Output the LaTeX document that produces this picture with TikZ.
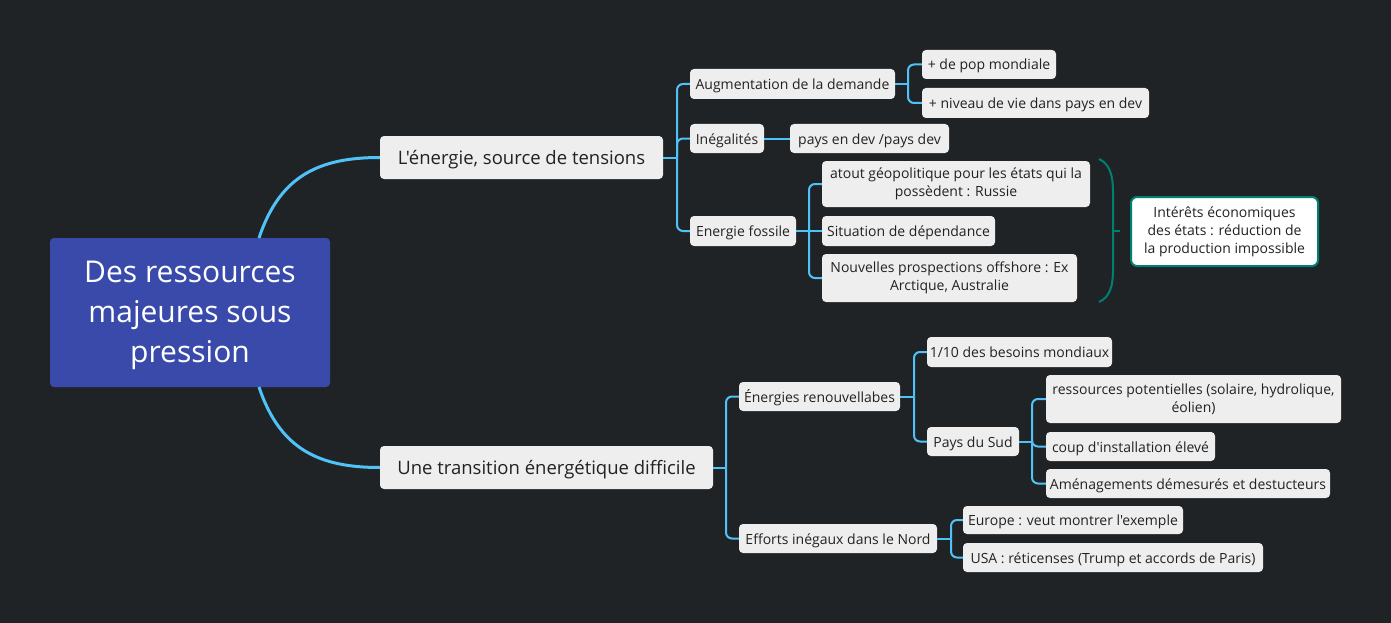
\documentclass[tikz,border=0pt]{standalone}
\usepackage{fontspec}
\setmainfont{Open Sans}[Ligatures=TeXOff]
\definecolor{bgc}{RGB}{32,35,38}
\definecolor{centralc}{RGB}{58,74,171}
\definecolor{linec}{RGB}{79,195,247}
\definecolor{nodec}{RGB}{238,238,238}
\definecolor{textc}{RGB}{34,34,34}
\definecolor{tealc}{RGB}{0,128,112}
\begin{document}
\begin{tikzpicture}[x=1pt,y=-1pt,
  central/.style={fill=centralc,rounded corners=4pt,inner sep=0pt,text=white,align=center,
    font=\fontsize{30}{40}\selectfont},
  topic/.style={fill=nodec,rounded corners=4pt,inner sep=0pt,text=textc,align=center,
    text height=15pt,text depth=2pt,font=\fontsize{18.5}{22}\selectfont},
  sub/.style={fill=nodec,rounded corners=4pt,inner sep=0pt,text=textc,align=center,
    font=\fontsize{14}{18}\selectfont},
  one/.style={text height=13pt,text depth=2pt},
  summ/.style={fill=white,draw=tealc,line width=2pt,rounded corners=6pt,inner sep=0pt,text=textc,align=center,
    font=\fontsize{14}{18}\selectfont},
  mainconn/.style={draw=linec,line width=3pt},
  conn/.style={draw=linec,line width=2pt,rounded corners=6pt},
  bracec/.style={draw=tealc,line width=2pt}
]
\useasboundingbox (0,0) rectangle (1391,623);
\fill[bgc] (0,0) rectangle (1391,623);

% nodes
\node[central,minimum width=280pt,minimum height=149pt] (c) at (190,312.5) {\raisebox{-9pt}[0pt][0pt]{\parbox{270pt}{\centering Des ressources\\majeures sous\\pression}}};
\node[topic,minimum width=283pt,minimum height=43pt] (t1) at (521.5,157.5) {L'énergie, source de tensions};
\node[topic,minimum width=333pt,minimum height=43pt] (t2) at (546.5,467.5) {Une transition énergétique difficile};

\node[sub,one,minimum width=205pt,minimum height=30pt] (aug) at (792.5,84) {Augmentation de la demande};
\node[sub,one,minimum width=74pt,minimum height=29pt] (ineg) at (727,138.5) {Inégalités};
\node[sub,one,minimum width=106pt,minimum height=30pt] (fos) at (743,231) {Energie fossile};
\node[sub,one,minimum width=134pt,minimum height=29pt] (pop) at (989,64.5) {+ de pop mondiale};
\node[sub,one,minimum width=227pt,minimum height=30pt] (niv) at (1035.5,103) {+ niveau de vie dans pays en dev};
\node[sub,one,minimum width=159pt,minimum height=29pt] (pays) at (869.5,138.5) {pays en dev /pays dev};
\node[sub,minimum width=268pt,minimum height=46pt] (atout) at (956,184) {atout géopolitique pour les états qui la\\possèdent : Russie};
\node[sub,one,minimum width=173pt,minimum height=30pt] (sit) at (908.5,231) {Situation de dépendance};
\node[sub,minimum width=255pt,minimum height=48pt] (nouv) at (949.5,278) {Nouvelles prospections offshore : Ex\\Arctique, Australie};
\node[summ,minimum width=187pt,minimum height=69pt] (sum) at (1224.5,231.5) {Intérêts économiques\\des états : réduction de\\la production impossible};

\node[sub,one,minimum width=161pt,minimum height=29pt] (ren) at (819.5,396.5) {Énergies renouvellabes};
\node[sub,one,minimum width=198pt,minimum height=29pt] (eff) at (838,538.5) {Efforts inégaux dans le Nord};
\node[sub,one,minimum width=185pt,minimum height=30pt] (bes) at (1019.5,352) {1/10 des besoins mondiaux};
\node[sub,one,minimum width=92pt,minimum height=29pt] (sud) at (973,441.5) {Pays du Sud};
\node[sub,minimum width=295pt,minimum height=48pt] (ress) at (1193.5,399) {ressources potentielles (solaire, hydrolique,\\éolien)};
\node[sub,one,minimum width=169pt,minimum height=29pt] (coup) at (1130.5,446.5) {coup d'installation élevé};
\node[sub,one,minimum width=284pt,minimum height=29pt] (amen) at (1188,483.5) {Aménagements démesurés et destucteurs};
\node[sub,one,minimum width=220pt,minimum height=28pt] (eur) at (1073,520) {Europe : veut montrer l'exemple};
\node[sub,one,minimum width=300pt,minimum height=29pt] (usa) at (1113,557.5) {USA : réticenses (Trump et accords de Paris)};

% junctions
\coordinate (ct) at (259,238);
\coordinate (cb) at (259,387);
\coordinate (j1) at (677,157.5);
\coordinate (jaug) at (908,84);
\coordinate (jfos) at (809,231);
\coordinate (j2) at (726,467.5);
\coordinate (jren) at (914,396.5);
\coordinate (jsud) at (1032,441.5);
\coordinate (jeff) at (951,538.5);

% main connectors
\draw[mainconn] (ct) .. controls (280,175) and (320,157.5) .. (t1.west);
\draw[mainconn] (cb) .. controls (280,450) and (320,467.5) .. (t2.west);

% topic 1
\draw[conn] (t1.east) -- (j1);
\draw[conn] (j1) |- (aug.west);
\draw[conn] (j1) |- (ineg.west);
\draw[conn] (j1) |- (fos.west);
\draw[conn] (aug.east) -- (jaug);
\draw[conn] (jaug) |- (pop.west);
\draw[conn] (jaug) |- (niv.west);
\draw[conn] (ineg.east) -- (pays.west);
\draw[conn] (fos.east) -- (jfos);
\draw[conn] (jfos) |- (atout.west);
\draw[conn] (jfos) -- (sit.west);
\draw[conn] (jfos) |- (nouv.west);

% brace
\coordinate (bt) at (1099,159);
\coordinate (bb) at (1099,302);
\coordinate (bm) at (1113,231);
\draw[bracec] (bt) .. controls (1110,164) and (1113,176) .. (1113,192) -- (1113,270) .. controls (1113,286) and (1110,297) .. (bb);
\draw[bracec] (bm) -- (1120,231);

% topic 2
\draw[conn] (t2.east) -- (j2);
\draw[conn] (j2) |- (ren.west);
\draw[conn] (j2) |- (eff.west);
\draw[conn] (ren.east) -- (jren);
\draw[conn] (jren) |- (bes.west);
\draw[conn] (jren) |- (sud.west);
\draw[conn] (sud.east) -- (jsud);
\draw[conn] (jsud) |- (ress.west);
\draw[conn] (jsud) |- (coup.west);
\draw[conn] (jsud) |- (amen.west);
\draw[conn] (eff.east) -- (jeff);
\draw[conn] (jeff) |- (eur.west);
\draw[conn] (jeff) |- (usa.west);
\end{tikzpicture}
\end{document}
